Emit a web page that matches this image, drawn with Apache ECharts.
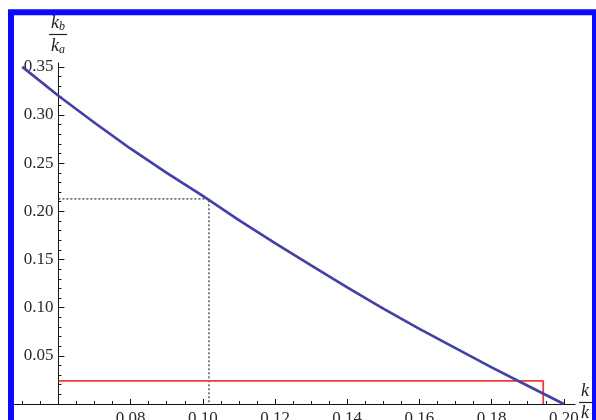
<!DOCTYPE html>
<html>
<head>
<meta charset="utf-8">
<script src="https://cdn.jsdelivr.net/npm/echarts@6/dist/echarts.min.js"></script>
<style>
  html, body { margin: 0; padding: 0; background: #fff; }
  #chart { width: 596px; height: 420px; }
</style>
</head>
<body>
<div id="chart"></div>
<script>
// Ratio curve kb/ka sampled along the horizontal axis
const curveX = [0.05, 0.06, 0.07, 0.08, 0.09, 0.10, 0.11, 0.12, 0.13, 0.14, 0.15, 0.16, 0.17, 0.18, 0.19, 0.20];
const curveY = [0.350, 0.320, 0.292, 0.265, 0.240, 0.216, 0.191, 0.167, 0.144, 0.121, 0.099, 0.078, 0.058, 0.038, 0.019, 0.000];

// Dotted guide to the read-off point
const guideX = 0.1017;
const guideY = 0.213;

// Red threshold box
const limitX = 0.1943;
const limitY = 0.024;

// Axis extents and origin
const xMin = 0.0477, xMax = 0.2031, xOrigin = 0.06;
const yMin = 0, yMax = 0.354;

// Tick values
const xMajorTicks = [0.08, 0.10, 0.12, 0.14, 0.16, 0.18, 0.20];
const xMinorTicks = [0.05, 0.055, 0.065, 0.07, 0.075, 0.085, 0.09, 0.095, 0.105, 0.11, 0.115,
  0.125, 0.13, 0.135, 0.145, 0.15, 0.155, 0.165, 0.17, 0.175, 0.185, 0.19, 0.195];
const yMajorTicks = [0.05, 0.10, 0.15, 0.20, 0.25, 0.30, 0.35];
const yMinorTicks = [0.01, 0.02, 0.03, 0.04, 0.06, 0.07, 0.08, 0.09, 0.11, 0.12, 0.13, 0.14,
  0.16, 0.17, 0.18, 0.19, 0.21, 0.22, 0.23, 0.24, 0.26, 0.27, 0.28, 0.29, 0.31, 0.32, 0.33, 0.34];

const chart = echarts.init(document.getElementById('chart'), null, { renderer: 'canvas' });

const gridLeft = 14, gridRight = 21, gridTop = 63, gridBottom = 16;
const plotW = 596 - gridLeft - gridRight;
const yAxisOffset = -((xOrigin - xMin) / (xMax - xMin) * plotW);

const labelFont = { fontFamily: '"Liberation Serif", "DejaVu Serif", serif', fontSize: 17, color: '#2a2a2a' };
const fmt2 = v => v.toFixed(2);

function xAxisDef(ticks, len, withLabels, withLine) {
  return {
    type: 'value', min: xMin, max: xMax, position: 'bottom',
    axisLine: { show: withLine, onZero: false, lineStyle: { color: '#111', width: 1 } },
    axisTick: { show: true, inside: true, length: len, customValues: ticks, lineStyle: { color: '#111', width: 1 } },
    axisLabel: withLabels ? Object.assign({ show: true, margin: 6, customValues: ticks, formatter: fmt2 }, labelFont) : { show: false },
    splitLine: { show: false }, minorTick: { show: false }
  };
}
function yAxisDef(ticks, len, withLabels, withLine) {
  return {
    type: 'value', min: yMin, max: yMax, position: 'left', offset: yAxisOffset,
    axisLine: { show: withLine, onZero: false, lineStyle: { color: '#111', width: 1 } },
    axisTick: { show: true, inside: true, length: len, customValues: ticks, lineStyle: { color: '#111', width: 1 } },
    axisLabel: withLabels ? Object.assign({ show: true, margin: 5, customValues: ticks, formatter: fmt2 }, labelFont) : { show: false },
    splitLine: { show: false }, minorTick: { show: false }
  };
}

const italic = { fontFamily: '"Liberation Serif", "DejaVu Serif", serif', fontStyle: 'italic', fill: '#222' };

chart.setOption({
  backgroundColor: '#ffffff',
  animation: false,
  grid: { left: gridLeft, right: gridRight, top: gridTop, bottom: gridBottom, outerBoundsMode: 'none', containLabel: false },
  xAxis: [xAxisDef(xMajorTicks, 5, true, true), xAxisDef(xMinorTicks, 3, false, false)],
  yAxis: [yAxisDef(yMajorTicks, 6, true, true), yAxisDef(yMinorTicks, 3, false, false)],
  series: [
    {
      name: 'guide', type: 'line', xAxisIndex: 0, yAxisIndex: 0, symbol: 'none', z: 2,
      lineStyle: { color: '#333', width: 1.2, type: [2, 2] },
      data: [[xOrigin, guideY], [guideX, guideY], [guideX, 0]]
    },
    {
      name: 'limit', type: 'line', xAxisIndex: 0, yAxisIndex: 0, symbol: 'none', z: 3,
      lineStyle: { color: '#ee3a3a', width: 1.8 },
      data: [[xOrigin, limitY], [limitX, limitY], [limitX, 0]]
    },
    {
      name: 'kb/ka', type: 'line', xAxisIndex: 0, yAxisIndex: 0, symbol: 'none', z: 4,
      smooth: false,
      lineStyle: { color: '#4242a6', width: 2.7, join: 'round' },
      data: curveX.map((x, i) => [x, curveY[i]])
    }
  ],
  graphic: [
    // vertical axis name: k_b over k_a
    { type: 'text', x: 58, y: 33, style: { text: '{k|k}{s|b}', align: 'center', verticalAlign: 'bottom',
        rich: { k: Object.assign({ fontSize: 18 }, italic), s: Object.assign({ fontSize: 12, padding: [8, 0, 0, 0] }, italic) } } },
    { type: 'line', shape: { x1: 49, y1: 34.5, x2: 67, y2: 34.5 }, style: { stroke: '#222', lineWidth: 1.2 } },
    { type: 'text', x: 58, y: 36, style: { text: '{k|k}{s|a}', align: 'center', verticalAlign: 'top',
        rich: { k: Object.assign({ fontSize: 18 }, italic), s: Object.assign({ fontSize: 12, padding: [8, 0, 0, 0] }, italic) } } },
    // horizontal axis name, clipped by the frame
    { type: 'text', x: 581, y: 400, style: Object.assign({ text: 'k', fontSize: 18, align: 'left', verticalAlign: 'bottom' }, italic) },
    { type: 'line', shape: { x1: 579, y1: 402.5, x2: 596, y2: 402.5 }, style: { stroke: '#222', lineWidth: 1.2 } },
    { type: 'text', x: 581, y: 404, style: Object.assign({ text: 'k', fontSize: 18, align: 'left', verticalAlign: 'top' }, italic) },
    // blue frame
    { type: 'rect', z: 100, shape: { x: 11, y: 12.3, width: 584, height: 430 },
      style: { fill: 'none', stroke: '#0a0aff', lineWidth: 6 } }
  ]
});
</script>
</body>
</html>
